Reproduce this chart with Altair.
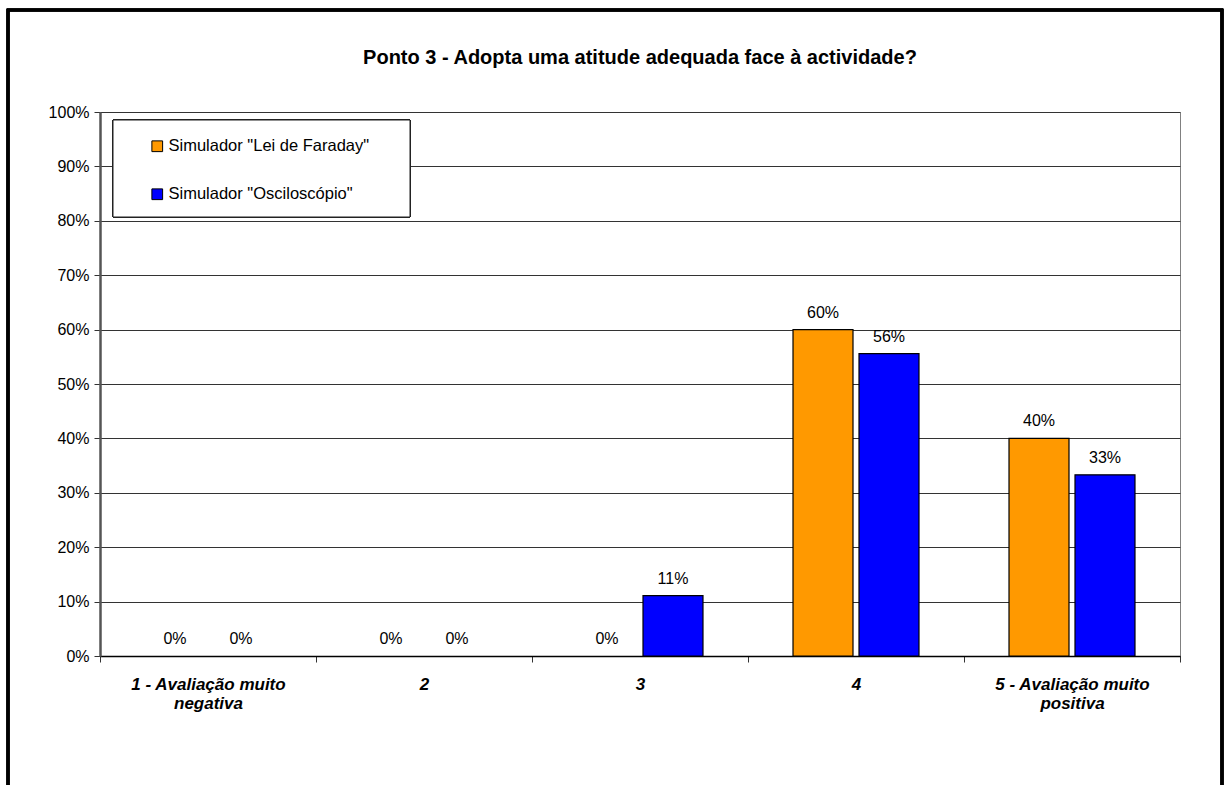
import altair as alt
import pandas as pd

# Survey answers, share of students per rating (1 = very negative ... 5 = very positive)
categories = ["1 - Avaliação muito negativa", "2", "3", "4", "5 - Avaliação muito positiva"]
series = ['Simulador "Lei de Faraday"', 'Simulador "Osciloscópio"']
faraday = [0.0, 0.0, 0.0, 0.60, 0.40]
osciloscopio = [0.0, 0.0, 0.111, 0.556, 0.333]
colors = ["#FF9900", "#0000FF"]
y_ticks = [0.0, 0.1, 0.2, 0.3, 0.4, 0.5, 0.6, 0.7, 0.8, 0.9, 1.0]
title_text = "Ponto 3 - Adopta uma atitude adequada face à actividade?"

rows = []
for cat, a, b in zip(categories, faraday, osciloscopio):
    rows.append({"cat": cat, "serie": series[0], "val": a})
    rows.append({"cat": cat, "serie": series[1], "val": b})
df = pd.DataFrame(rows)

FONT = "Liberation Sans"

x_enc = alt.X(
    "cat:N",
    sort=categories,
    scale=alt.Scale(paddingInner=0, paddingOuter=0),
    axis=alt.Axis(
        title=None,
        labelAngle=0,
        tickBand="extent",
        labelExpr="split(replace(datum.label, 'muito ', 'muito|'), '|')",
        labelFont=FONT,
        labelFontSize=17,
        labelFontWeight="bold",
        labelFontStyle="italic",
        labelColor="black",
        labelLineHeight=19,
        labelPadding=14,
        tickSize=6,
        tickColor="#333333",
        domainColor="black",
        domainWidth=1.5,
        grid=False,
    ),
)
# two bars per rating, with wide margins on both sides of each pair
xoff_scale = alt.Scale(paddingInner=0.0909, paddingOuter=0.682)
xoff_enc = alt.XOffset("serie:N", sort=series, scale=xoff_scale)
y_enc = alt.Y(
    "val:Q",
    scale=alt.Scale(domain=[0, 1]),
    axis=alt.Axis(
        title=None,
        values=y_ticks,
        format=".0%",
        labelFont=FONT,
        labelFontSize=16,
        labelColor="black",
        labelPadding=5,
        tickSize=6,
        tickColor="#333333",
        domainColor="#555555",
        domainWidth=2.5,
        grid=True,
        gridColor="#333333",
        gridWidth=1,
    ),
)

base = alt.Chart(df)

# outer chart frame
frame = base.mark_rect(fill=None, stroke="black", strokeWidth=2.5).encode(
    x=alt.value(-92), x2=alt.value(1122), y=alt.value(-102), y2=alt.value(700)
)

# box behind the legend entries
legend_box = base.mark_rect(fill="white", stroke="#222222", strokeWidth=1).encode(
    x=alt.value(13), x2=alt.value(310), y=alt.value(8), y2=alt.value(105)
)

bars = base.mark_bar(stroke="black", opacity=1).encode(
    x=x_enc,
    xOffset=xoff_enc,
    y=y_enc,
    color=alt.Color(
        "serie:N",
        sort=series,
        scale=alt.Scale(domain=series, range=colors),
        legend=alt.Legend(
            title=None,
            orient="none",
            legendX=49,
            legendY=26,
            padding=0,
            symbolType="square",
            symbolSize=115,
            symbolStrokeColor="black",
            symbolStrokeWidth=1,
            symbolOpacity=1,
            labelFont=FONT,
            labelFontSize=16.5,
            labelColor="black",
            labelOffset=3,
            labelLimit=400,
            rowPadding=31,
        ),
    ),
    strokeWidth=alt.condition("datum.val > 0", alt.value(1.2), alt.value(0)),
)

labels = base.mark_text(font=FONT, fontSize=16, color="black", dy=-12, baseline="alphabetic").encode(
    x=alt.X("cat:N", sort=categories),
    xOffset=alt.XOffset("serie:N", sort=series, scale=xoff_scale),
    y=alt.Y("val:Q"),
    text=alt.Text("val:Q", format=".0%"),
)

chart = (
    alt.layer(frame, legend_box, bars, labels)
    .properties(
        width=1080,
        height=544,
        title=alt.Title(
            title_text,
            font=FONT,
            fontSize=20,
            fontWeight="bold",
            color="black",
            anchor="middle",
            offset=-59,
        ),
        autosize=alt.AutoSizeParams(type="none"),
        padding={"left": 100, "top": 112, "right": 44, "bottom": 129},
    )
    .configure(font=FONT, background="white")
    .configure_view(stroke="#808080", strokeWidth=1)
)

chart.save("out.html", embed_options={"renderer": "svg", "actions": False})
